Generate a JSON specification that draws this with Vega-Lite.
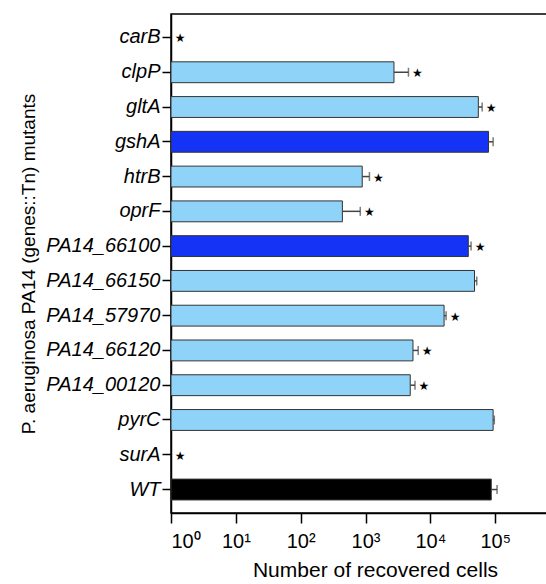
{
  "$schema": "https://vega.github.io/schema/vega-lite/v6.json",
  "width": 389,
  "height": 499,
  "autosize": {"type": "none"},
  "padding": {"left": 171, "top": 14, "right": 0, "bottom": 71},
  "background": "white",
  "config": {
    "font": "Liberation Sans",
    "view": {"stroke": "black", "strokeWidth": 1.5},
    "axis": {"domainColor": "black", "domainWidth": 1.5, "tickColor": "black", "tickWidth": 1.5, "labelColor": "black", "titleColor": "black", "grid": false, "labelFont": "Liberation Sans", "titleFont": "Liberation Sans", "titleFontWeight": "normal"}
  },
  "data": {
    "values": [
      {"gene": "carB", "value": null, "hi": 1, "sig": true, "group": "mutant"},
      {"gene": "clpP", "value": 2750, "hi": 4600, "sig": true, "group": "mutant"},
      {"gene": "gltA", "value": 55000, "hi": 63000, "sig": true, "group": "mutant"},
      {"gene": "gshA", "value": 79000, "hi": 93000, "sig": false, "group": "highlight"},
      {"gene": "htrB", "value": 890, "hi": 1150, "sig": true, "group": "mutant"},
      {"gene": "oprF", "value": 440, "hi": 830, "sig": true, "group": "mutant"},
      {"gene": "PA14_66100", "value": 38500, "hi": 42500, "sig": true, "group": "highlight"},
      {"gene": "PA14_66150", "value": 48000, "hi": 52000, "sig": false, "group": "mutant"},
      {"gene": "PA14_57970", "value": 16300, "hi": 17500, "sig": true, "group": "mutant"},
      {"gene": "PA14_66120", "value": 5400, "hi": 6500, "sig": true, "group": "mutant"},
      {"gene": "PA14_00120", "value": 4900, "hi": 5800, "sig": true, "group": "mutant"},
      {"gene": "pyrC", "value": 93000, "hi": 97000, "sig": false, "group": "mutant"},
      {"gene": "surA", "value": null, "hi": 1, "sig": true, "group": "mutant"},
      {"gene": "WT", "value": 87000, "hi": 107000, "sig": false, "group": "wt"}
    ]
  },
  "encoding": {
    "y": {
      "field": "gene", "type": "nominal",
      "sort": ["carB", "clpP", "gltA", "gshA", "htrB", "oprF", "PA14_66100", "PA14_66150", "PA14_57970", "PA14_66120", "PA14_00120", "pyrC", "surA", "WT"],
      "scale": {"paddingInner": 0.4, "paddingOuter": 0.375},
      "axis": {
        "title": "P. aeruginosa PA14 (genes::Tn) mutants",
        "titleFontSize": 19, "titlePadding": 7,
        "labelFontSize": 20, "labelFontStyle": "italic", "labelPadding": 2,
        "tickSize": 9, "domain": true
      }
    }
  },
  "layer": [
    {
      "transform": [{"filter": "isValid(datum.value)"}],
      "mark": {"type": "bar", "stroke": "#333333", "strokeWidth": 1},
      "encoding": {
        "x": {
          "field": "value", "type": "quantitative",
          "scale": {"type": "log", "domain": [1, 1000000], "clamp": true},
          "axis": {
            "values": [1, 10, 100, 1000, 10000, 100000],
            "labelExpr": "'10' + ['⁰','¹','²','³','⁴','⁵','⁶'][round(log(datum.value)/LN10)]",
            "labelFontSize": 20, "labelPadding": 8, "tickSize": 10,
            "title": "Number of recovered cells", "titleFontSize": 21, "titlePadding": 8, "titleX": 204
          }
        },
        "x2": {"datum": 1},
        "color": {
          "field": "group", "type": "nominal", "legend": null,
          "scale": {"domain": ["mutant", "highlight", "wt"], "range": ["#8fd3f8", "#1433f5", "#000000"]}
        }
      }
    },
    {
      "transform": [{"filter": "isValid(datum.value)"}],
      "mark": {"type": "rule", "color": "#444444", "strokeWidth": 1.5},
      "encoding": {
        "x": {"field": "value", "type": "quantitative"},
        "x2": {"field": "hi"}
      }
    },
    {
      "transform": [{"filter": "isValid(datum.value)"}],
      "mark": {"type": "tick", "color": "#444444", "thickness": 1.5, "size": 9, "orient": "vertical"},
      "encoding": {
        "x": {"field": "hi", "type": "quantitative"}
      }
    },
    {
      "transform": [{"filter": "datum.sig"}],
      "mark": {"type": "text", "text": "★", "fontSize": 12, "dx": 9, "dy": 1, "align": "center", "baseline": "middle", "color": "black", "font": "DejaVu Sans"},
      "encoding": {
        "x": {"field": "hi", "type": "quantitative"}
      }
    }
  ]
}
